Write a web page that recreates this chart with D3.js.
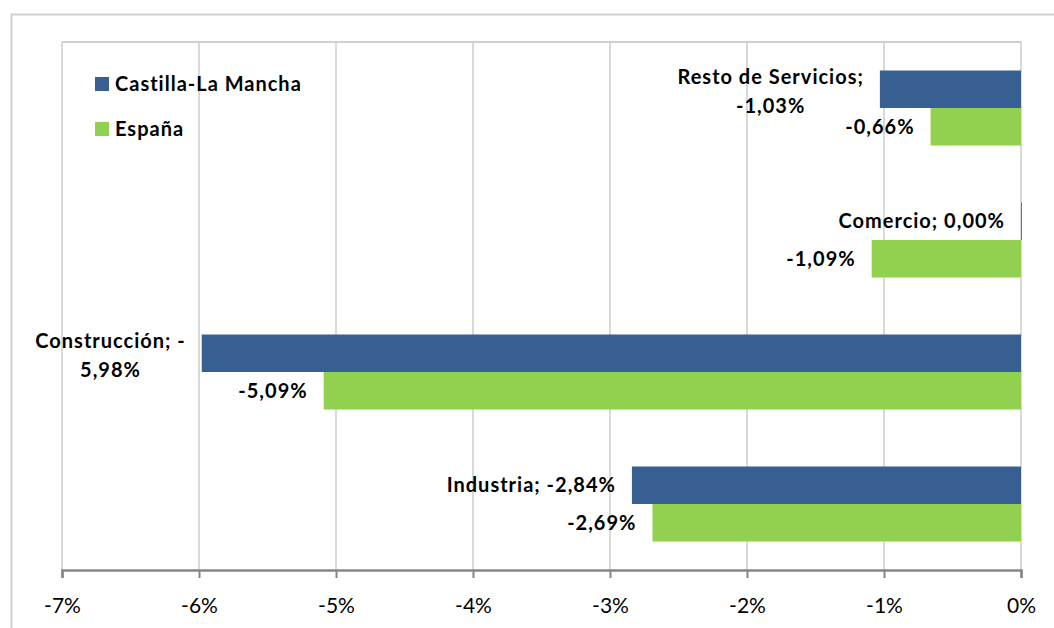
<!DOCTYPE html>
<html>
<head>
<meta charset="utf-8">
<script src="https://cdn.jsdelivr.net/npm/d3@7"></script>
<style>
  body { margin: 0; background: #fff; }
  text { font-family: Lato, "Open Sans", sans-serif; fill: #000; }
</style>
</head>
<body>
<div class="chart"></div>
<script>
// chart data
var categories = ["Resto de Servicios", "Comercio", "Construcción", "Industria"];
var seriesNames = ["Castilla-La Mancha", "España"];
var clmValues = [-1.03, 0.00, -5.98, -2.84];
var espValues = [-0.66, -1.09, -5.09, -2.69];
// data labels for the first series, as Excel wrapped them
var clmLabels = [["Resto de Servicios;", "-1,03%"], ["Comercio; 0,00%"], ["Construcción; -", "5,98%"], ["Industria; -2,84%"]];
var xTicks = [-7, -6, -5, -4, -3, -2, -1, 0];

var colors = ["#375F91", "#92D050"];

var svgWidth = 1054;
var svgHeight = 628;

var margin = { top: 42, right: 33, bottom: 58, left: 62 };
var width = svgWidth - margin.left - margin.right;
var height = svgHeight - margin.top - margin.bottom;

var svg = d3.select(".chart")
  .append("svg")
  .attr("width", svgWidth)
  .attr("height", svgHeight);

// outer chart border (top and left visible)
svg.append("path")
  .attr("d", "M11.5," + svgHeight + "V14.5H" + svgWidth)
  .attr("fill", "none")
  .attr("stroke", "#D0D0D0")
  .attr("stroke-width", 2);

var chartGroup = svg.append("g")
  .attr("transform", `translate(${margin.left}, ${margin.top})`);

var xScale = d3.scaleLinear()
  .domain([-7, 0])
  .range([0, width]);

var y0 = d3.scaleBand()
  .domain(categories)
  .range([0, height])
  .padding(0);

var y1 = d3.scaleBand()
  .domain(seriesNames)
  .range([0, y0.bandwidth()])
  .paddingInner(0)
  .paddingOuter(0.76);

// gridlines
chartGroup.append("g")
  .selectAll("line")
  .data(xTicks)
  .enter()
  .append("line")
  .attr("x1", d => xScale(d))
  .attr("x2", d => xScale(d))
  .attr("y1", 0)
  .attr("y2", height)
  .attr("stroke", "#D9D9D9")
  .attr("stroke-width", 2);

// plot area top border
chartGroup.append("line")
  .attr("x1", 0)
  .attr("x2", width)
  .attr("y1", 0)
  .attr("y2", 0)
  .attr("stroke", "#D0D0D0")
  .attr("stroke-width", 2);

var rows = categories.map(function(c, i) {
  return { cat: c, values: [clmValues[i], espValues[i]], labels: [clmLabels[i], null] };
});

var catGroups = chartGroup.selectAll(".cat")
  .data(rows)
  .enter()
  .append("g")
  .attr("class", "cat")
  .attr("transform", d => `translate(0, ${y0(d.cat)})`);

function fmt(v) {
  return v.toFixed(2).replace(".", ",") + "%";
}

catGroups.each(function(row) {
  var g = d3.select(this);
  seriesNames.forEach(function(s, j) {
    var v = row.values[j];
    g.append("rect")
      .attr("x", xScale(Math.min(v, 0)))
      .attr("y", y1(s))
      .attr("width", Math.max(Math.abs(xScale(v) - xScale(0)), 0.8))
      .attr("height", y1.bandwidth())
      .attr("fill", colors[j]);

    // data label, right aligned before the bar end
    var lines = row.labels[j] || [fmt(v)];
    var lineH = 29;
    var cy = y1(s) + y1.bandwidth() / 2 + (lines.length > 1 ? 2 : 0);
    var label = g.append("text")
      .attr("font-size", "20px")
      .attr("font-weight", "bold")
      .attr("letter-spacing", "1px")
      .attr("text-anchor", "middle");
    var spans = lines.map(function(t, k) {
      return label.append("tspan")
        .attr("y", cy + (k - (lines.length - 1) / 2) * lineH)
        .attr("dy", "0.35em")
        .text(t);
    });
    var w = d3.max(spans, sp => sp.node().getComputedTextLength());
    var right = xScale(v) - 16;
    spans.forEach(sp => sp.attr("x", right - w / 2));
  });
});

// x axis
var bottomAxis = d3.axisBottom(xScale)
  .tickValues(xTicks)
  .tickSize(8)
  .tickPadding(20)
  .tickFormat(d => d + "%");

var axisG = chartGroup.append("g")
  .attr("transform", `translate(0, ${height})`)
  .call(bottomAxis);

axisG.select(".domain")
  .attr("stroke", "#868686")
  .attr("stroke-width", 2.5);
axisG.selectAll(".tick line")
  .attr("stroke", "#868686")
  .attr("stroke-width", 2);
axisG.selectAll(".tick text")
  .attr("font-size", "21px")
  .attr("font-family", "Lato, sans-serif")
  .attr("fill", "#000");

// legend
var legend = svg.append("g")
  .attr("transform", "translate(95, 77)");

seriesNames.forEach(function(s, j) {
  var item = legend.append("g")
    .attr("transform", `translate(0, ${j * 45})`);
  item.append("rect")
    .attr("width", 14)
    .attr("height", 14)
    .attr("fill", colors[j]);
  item.append("text")
    .attr("x", 20)
    .attr("y", 7)
    .attr("dy", "0.35em")
    .attr("font-size", "20px")
    .attr("font-weight", "bold")
    .attr("letter-spacing", "1px")
    .text(s);
});
</script>
</body>
</html>
